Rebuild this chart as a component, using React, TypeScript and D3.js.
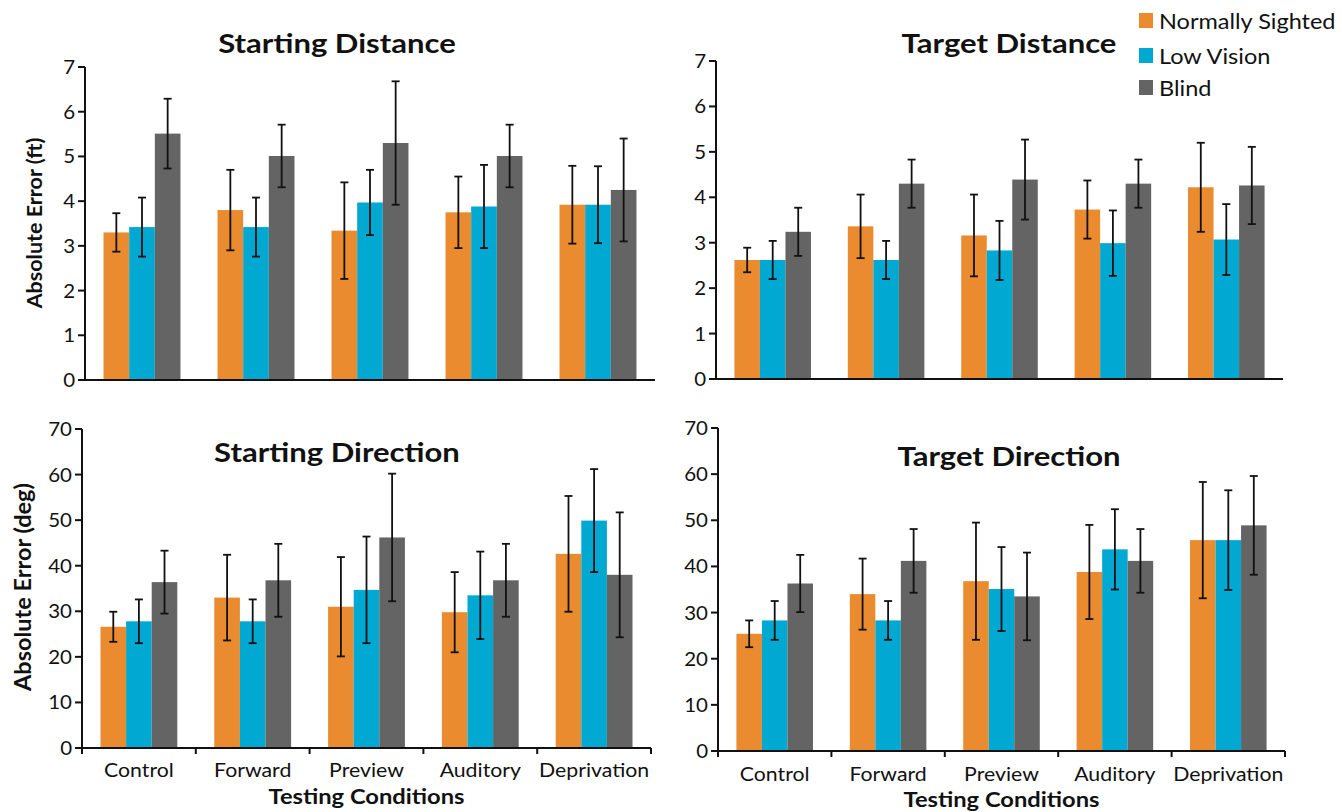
import React from "react";
import * as d3 from "d3";

const categories = ["Control", "Forward", "Preview", "Auditory", "Deprivation"];
const seriesNames = ["Normally Sighted", "Low Vision", "Blind"];
const seriesColors = ["#E98B2E", "#00A8D2", "#646464"];

// Starting Distance (ft): means and error half-widths per series
const sdNormal = [3.30, 3.80, 3.34, 3.75, 3.92];
const sdNormalErr = [0.43, 0.90, 1.08, 0.80, 0.87];
const sdLow = [3.42, 3.42, 3.97, 3.88, 3.92];
const sdLowErr = [0.66, 0.66, 0.73, 0.93, 0.86];
const sdBlind = [5.51, 5.01, 5.30, 5.01, 4.25];
const sdBlindErr = [0.78, 0.70, 1.38, 0.70, 1.15];

// Target Distance (ft)
const tdNormal = [2.62, 3.36, 3.16, 3.73, 4.22];
const tdNormalErr = [0.27, 0.70, 0.90, 0.64, 0.98];
const tdLow = [2.62, 2.62, 2.83, 2.99, 3.07];
const tdLowErr = [0.42, 0.42, 0.65, 0.72, 0.78];
const tdBlind = [3.24, 4.30, 4.39, 4.30, 4.26];
const tdBlindErr = [0.53, 0.53, 0.88, 0.53, 0.85];

// Starting Direction (deg)
const sgNormal = [26.6, 33.0, 31.0, 29.8, 42.6];
const sgNormalErr = [3.3, 9.4, 10.9, 8.8, 12.7];
const sgLow = [27.8, 27.8, 34.7, 33.5, 49.9];
const sgLowErr = [4.8, 4.8, 11.7, 9.6, 11.3];
const sgBlind = [36.4, 36.8, 46.2, 36.8, 38.0];
const sgBlindErr = [6.9, 8.0, 14.0, 8.0, 13.7];

// Target Direction (deg)
const tgNormal = [25.4, 34.0, 36.8, 38.8, 45.7];
const tgNormalErr = [2.9, 7.7, 12.7, 10.2, 12.6];
const tgLow = [28.3, 28.3, 35.1, 43.7, 45.7];
const tgLowErr = [4.2, 4.2, 9.1, 8.7, 10.8];
const tgBlind = [36.3, 41.2, 33.5, 41.2, 48.9];
const tgBlindErr = [6.2, 6.9, 9.5, 6.9, 10.7];

const distTicks = [0, 1, 2, 3, 4, 5, 6, 7];
const dirTicks = [0, 10, 20, 30, 40, 50, 60, 70];

const FONT = "Lato, 'Open Sans', sans-serif";

type Panel = {
  title: string;
  means: number[][];
  errs: number[][];
  ticks: number[];
  x0: number; x1: number; yTop: number; yBot: number;
  titleX: number; titleY: number;
  yLabel?: string; yLabelX?: number; yLabelY?: number; yLabelSize?: number;
  xLabels: boolean; xLabelY?: number; xTitleY?: number;
};

const panels: Panel[] = [
  {
    title: "Starting Distance",
    means: [sdNormal, sdLow, sdBlind], errs: [sdNormalErr, sdLowErr, sdBlindErr],
    ticks: distTicks, x0: 85, x1: 655, yTop: 67, yBot: 380,
    titleX: 337, titleY: 53,
    yLabel: "Absolute Error (ft)", yLabelX: 42, yLabelY: 223, yLabelSize: 21.5,
    xLabels: false,
  },
  {
    title: "Target Distance",
    means: [tdNormal, tdLow, tdBlind], errs: [tdNormalErr, tdLowErr, tdBlindErr],
    ticks: distTicks, x0: 716, x1: 1283, yTop: 61, yBot: 379,
    titleX: 1009, titleY: 53,
    xLabels: false,
  },
  {
    title: "Starting Direction",
    means: [sgNormal, sgLow, sgBlind], errs: [sgNormalErr, sgLowErr, sgBlindErr],
    ticks: dirTicks, x0: 82, x1: 651, yTop: 429, yBot: 748,
    titleX: 337, titleY: 462,
    yLabel: "Absolute Error (deg)", yLabelX: 31, yLabelY: 587, yLabelSize: 23.5,
    xLabels: true, xLabelY: 777, xTitleY: 804,
  },
  {
    title: "Target Direction",
    means: [tgNormal, tgLow, tgBlind], errs: [tgNormalErr, tgLowErr, tgBlindErr],
    ticks: dirTicks, x0: 718, x1: 1285, yTop: 428, yBot: 751,
    titleX: 1009, titleY: 466,
    xLabels: true, xLabelY: 781, xTitleY: 807,
  },
];

function SText(props: {
  x: number; y: number; sx?: number; anchor?: string; size: number; weight?: number | string;
  children: React.ReactNode; rotate?: number;
}) {
  const { x, y, sx = 1, anchor = "middle", size, weight = 400, children, rotate } = props;
  const tr = rotate ? `translate(${x},${y}) rotate(${rotate})` : `translate(${x},${y}) scale(${sx},1)`;
  return (
    <text transform={tr} textAnchor={anchor} fontSize={size} fontWeight={weight} fontFamily={FONT} fill="#111">
      {children}
    </text>
  );
}

function PanelView({ p }: { p: Panel }) {
  const yMax = p.ticks[p.ticks.length - 1];
  const y = d3.scaleLinear().domain([0, yMax]).range([p.yBot, p.yTop]);
  const x = d3.scaleBand<string>().domain(categories).range([p.x0, p.x1]).paddingInner(0).paddingOuter(0);
  const bw = x.bandwidth();
  const groupFrac = 0.675;
  const off = (bw * (1 - groupFrac)) / 2;
  const xs = d3.scaleBand<string>().domain(seriesNames).range([off, bw - off]).padding(0);
  const barW = xs.bandwidth();
  const cap = 4;
  return (
    <g>
      {p.means.map((vals, si) =>
        vals.map((v, ci) => {
          const bx = (x(categories[ci]) ?? 0) + (xs(seriesNames[si]) ?? 0);
          return (
            <rect key={`b${si}-${ci}`} x={bx} y={y(v)} width={barW} height={p.yBot - y(v)} fill={seriesColors[si]} />
          );
        })
      )}
      {p.means.map((vals, si) =>
        vals.map((v, ci) => {
          const cx = (x(categories[ci]) ?? 0) + (xs(seriesNames[si]) ?? 0) + barW / 2;
          const e = p.errs[si][ci];
          const hi = y(v + e);
          const lo = y(v - e);
          return (
            <g key={`e${si}-${ci}`} stroke="#111" strokeWidth={1.8} fill="none">
              <line x1={cx} x2={cx} y1={hi} y2={lo} />
              <line x1={cx - cap} x2={cx + cap} y1={hi} y2={hi} />
              <line x1={cx - cap} x2={cx + cap} y1={lo} y2={lo} />
            </g>
          );
        })
      )}
      {/* y axis */}
      <line x1={p.x0} x2={p.x0} y1={p.yTop} y2={p.yBot} stroke="#111" strokeWidth={2} />
      {p.ticks.map((t) => (
        <g key={`t${t}`}>
          <line x1={p.x0 - 7} x2={p.x0} y1={y(t)} y2={y(t)} stroke="#111" strokeWidth={2} />
          <SText x={p.x0 - 10} y={y(t) + 7} anchor="end" size={19.5} sx={1.05}>{t}</SText>
        </g>
      ))}
      {/* x axis */}
      <line x1={p.x0 - 6} x2={p.x1} y1={p.yBot} y2={p.yBot} stroke="#111" strokeWidth={2} />
      {p.xLabels &&
        [...categories.map((c) => x(c) ?? 0), p.x1].map((tx, i) => (
          <line key={`xt${i}`} x1={tx} x2={tx} y1={p.yBot} y2={p.yBot + 6} stroke="#111" strokeWidth={2} />
        ))}
      {p.xLabels &&
        categories.map((c) => (
          <SText key={`xl${c}`} x={(x(c) ?? 0) + bw / 2} y={p.xLabelY!} size={19} sx={1.12}>{c}</SText>
        ))}
      {p.xLabels && (
        <SText x={(p.x0 + p.x1) / 2} y={p.xTitleY!} size={21} sx={1.13} weight={700}>Testing Conditions</SText>
      )}
      <SText x={p.titleX} y={p.titleY} size={27} sx={1.15} weight={700}>{p.title}</SText>
      {p.yLabel && (
        <SText x={p.yLabelX!} y={p.yLabelY!} size={p.yLabelSize ?? 22} weight={700} rotate={-90}>{p.yLabel}</SText>
      )}
    </g>
  );
}

export default function App() {
  const legendY = [13, 48, 80];
  return (
    <svg width={1342} height={812} style={{ position: "absolute", left: 0, top: 0, background: "#fff" }}>
      <rect x={0} y={0} width={1342} height={812} fill="#fff" />
      {panels.map((p) => (
        <PanelView key={p.title} p={p} />
      ))}
      {seriesNames.map((s, i) => (
        <g key={s}>
          <rect x={1139} y={legendY[i]} width={14} height={15} fill={seriesColors[i]} />
          <SText x={1159} y={legendY[i] + 16} anchor="start" size={21} sx={1.12}>{s}</SText>
        </g>
      ))}
    </svg>
  );
}
